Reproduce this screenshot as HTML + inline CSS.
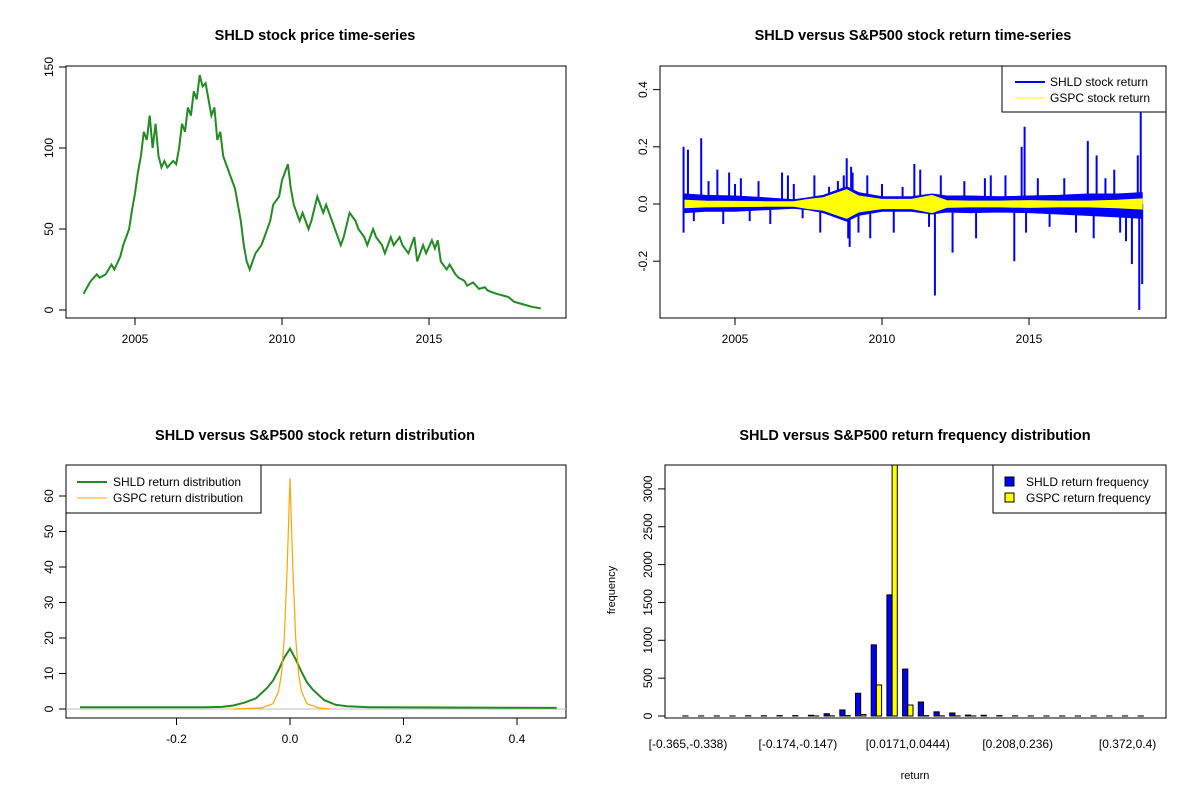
<!DOCTYPE html>
<html><head><meta charset="utf-8"><style>
body{margin:0;background:#fff;}
svg{display:block;font-family:"Liberation Sans",Arial,sans-serif;}
</style></head><body>
<svg id="c" width="1200" height="800" xmlns="http://www.w3.org/2000/svg"></svg>
<script>
// ---- Panel 1 data: SHLD price ----
const priceYears=[2003.25,2003.4,2003.5,2003.7,2003.8,2004.0,2004.2,2004.3,2004.5,2004.6,2004.8,2004.9,2005.0,2005.1,2005.2,2005.3,2005.4,2005.5,2005.6,2005.7,2005.8,2005.9,2006.0,2006.1,2006.3,2006.4,2006.5,2006.6,2006.7,2006.8,2006.9,2007.0,2007.1,2007.2,2007.3,2007.4,2007.5,2007.6,2007.7,2007.8,2007.9,2008.0,2008.1,2008.3,2008.4,2008.5,2008.6,2008.7,2008.8,2008.9,2009.0,2009.1,2009.3,2009.4,2009.6,2009.7,2009.9,2010.0,2010.2,2010.3,2010.4,2010.5,2010.6,2010.7,2010.9,2011.0,2011.2,2011.4,2011.5,2011.7,2011.8,2012.0,2012.1,2012.3,2012.5,2012.6,2012.8,2012.9,2013.1,2013.2,2013.4,2013.5,2013.7,2013.8,2014.0,2014.1,2014.3,2014.5,2014.6,2014.8,2014.9,2015.1,2015.2,2015.3,2015.4,2015.6,2015.7,2015.9,2016.0,2016.2,2016.3,2016.5,2016.7,2016.9,2017.0,2017.3,2017.5,2017.7,2017.9,2018.1,2018.3,2018.5,2018.8];
const priceValues=[10,15,18,22,20,22,28,25,33,40,50,62,72,85,95,110,105,120,100,115,95,88,92,88,92,90,100,115,110,125,120,135,130,145,138,140,130,120,125,105,110,95,90,80,75,65,55,40,30,25,30,35,40,45,55,65,70,80,90,75,65,60,55,60,50,55,70,60,65,55,50,40,45,60,55,50,45,40,50,45,40,35,45,40,45,40,35,45,30,40,35,43,38,43,30,25,28,22,20,18,15,17,13,14,12,10,9,8,5,4,3,2,1];
const priceTicks=[0,50,100,150];
const yearTicks=[2005,2010,2015];
// ---- Panel 2 data: return envelopes and spikes ----
const retYears=[2003.3,2004,2005,2006,2007,2007.5,2008,2008.8,2009.2,2010,2011,2011.7,2012.2,2013,2014,2015,2016,2017,2018,2018.85];
const shldUpper=[.035,.03,.028,.022,.015,.022,.03,.06,.04,.025,.025,.035,.028,.028,.025,.028,.03,.035,.035,.04];
const shldLower=[-.03,-.025,-.025,-.02,-.015,-.02,-.03,-.06,-.04,-.025,-.025,-.035,-.028,-.03,-.028,-.03,-.035,-.04,-.045,-.05];
const gspcAmp=[.013,.01,.009,.008,.008,.016,.022,.05,.028,.016,.016,.03,.012,.01,.01,.012,.01,.01,.013,.018];
const spikeYears=[2003.25,2003.25,2003.4,2003.6,2003.85,2004.1,2004.4,2004.6,2004.8,2005.0,2005.2,2005.5,2005.8,2006.2,2006.6,2006.8,2007.0,2007.3,2007.7,2007.9,2008.2,2008.5,2008.7,2008.8,2008.85,2008.9,2008.95,2009.0,2009.2,2009.5,2009.6,2010.0,2010.4,2010.7,2011.1,2011.3,2011.6,2011.8,2012.0,2012.4,2012.8,2013.2,2013.5,2013.7,2014.2,2014.5,2014.85,2014.75,2014.9,2015.3,2015.7,2016.2,2016.6,2017.0,2017.2,2017.3,2017.6,2017.9,2018.1,2018.3,2018.5,2018.7,2018.8,2018.75,2018.85];
const spikeValues=[0.2,-0.1,0.19,-0.06,0.23,0.08,0.12,-0.07,0.11,0.07,0.09,-0.06,0.08,-0.07,0.11,0.1,0.07,-0.05,0.1,-0.1,0.06,0.08,0.1,0.16,-0.12,-0.15,0.13,0.11,-0.1,0.1,-0.12,0.07,-0.1,0.06,0.14,0.12,-0.08,-0.32,0.1,-0.17,0.08,-0.12,0.09,0.1,0.1,-0.2,0.27,0.2,-0.1,0.09,-0.08,0.09,-0.1,0.22,-0.12,0.17,0.09,0.12,-0.1,-0.13,-0.21,0.17,0.32,-0.37,-0.28];
const retTicks=[-0.2,0.0,0.2,0.4];
// ---- Panel 3 data: densities ----
const shldDensX=[-0.37,-0.15,-0.12,-0.1,-0.08,-0.06,-0.04,-0.03,-0.02,-0.01,0,0.01,0.02,0.03,0.04,0.05,0.06,0.08,0.1,0.14,0.47];
const shldDensY=[0.5,0.5,0.6,1,1.8,3,6,8,11,14.5,17,14,10.5,7.5,5.5,4,2.5,1.2,0.8,0.5,0.3];
const gspcDensX=[-0.1,-0.05,-0.03,-0.02,-0.015,-0.01,-0.005,0,0.005,0.01,0.015,0.02,0.03,0.05,0.07];
const gspcDensY=[0,0.3,1.5,5,10,20,40,65,40,20,10,5,1.5,0.3,0];
const densYTicks=[0,10,20,30,40,50,60];
const densXTicks=[-0.2,0.0,0.2,0.4];
// ---- Panel 4 data: histogram ----
const binLabels=["[-0.365,-0.338)","[-0.174,-0.147)","[0.0171,0.0444)","[0.208,0.236)","[0.372,0.4)"];
const binLabelIdx=[0,7,14,21,28];
const shldFreq=[1,1,1,1,3,3,5,5,10,30,80,300,940,1600,620,185,55,40,12,10,5,2,1,1,1,1,1,1,1,1];
const gspcFreq=[0,0,0,0,0,0,0,0,1,2,5,20,410,3600,145,5,2,1,1,0,0,0,0,0,0,0,0,0,0,0];
const freqTicks=[0,500,1000,1500,2000,2500,3000];

const NS="http://www.w3.org/2000/svg";const svg=document.getElementById('c');
function el(tag,attrs,parent,text){const e=document.createElementNS(NS,tag);for(const k in attrs)e.setAttribute(k,attrs[k]);if(text!==undefined)e.textContent=text;(parent||svg).appendChild(e);return e;}
function txt(x,y,s,size,anchor,extra,parent){const t=el('text',Object.assign({x:x,y:y,'font-size':size,'text-anchor':anchor||'middle',fill:'#000'},extra||{}),parent,s);return t;}

function box(x0,y0,x1,y1,name){const r=el('rect',{x:x0,y:y0,width:x1-x0,height:y1-y0,fill:'none',stroke:'#000','stroke-width':1});}
function yaxis(xl,ticks,fy,fmt,name){const g=el('g',{});
 el('line',{x1:xl,x2:xl,y1:fy(ticks[0]),y2:fy(ticks[ticks.length-1]),stroke:'#000'},g);
 ticks.forEach(t=>{const y=fy(t);el('line',{x1:xl-7,x2:xl,y1:y,y2:y,stroke:'#000'},g);txt(xl-13,y,fmt(t),12,'middle',{transform:`rotate(-90 ${xl-13} ${y})`},g);});}
function xaxis(yb,ticks,fx,fmt,name){const g=el('g',{});
 el('line',{x1:fx(ticks[0]),x2:fx(ticks[ticks.length-1]),y1:yb,y2:yb,stroke:'#000'},g);
 ticks.forEach(t=>{const x=fx(t);el('line',{x1:x,x2:x,y1:yb,y2:yb+7,stroke:'#000'},g);txt(x,yb+25,fmt(t),12,'middle',{},g);});}
function title(x,y,s,name){const t=txt(x,y,s,14.5,'middle',{'font-weight':'bold'});}

// ===== Panel 1 =====
const p1x=y=>135+(y-2005)*29.4, p1y=v=>310-v*1.62;
title(315,40,'SHLD stock price time-series','price-title');
box(66,66,566,318,'price-plot-box');
yaxis(66,priceTicks,p1y,v=>String(v),'price-y-axis');
xaxis(318,yearTicks,p1x,v=>String(v),'price-x-axis');
{let d='';priceYears.forEach((y,i)=>{d+=(i?'L':'M')+p1x(y).toFixed(1)+','+p1y(priceValues[i]).toFixed(1);});
const p=el('path',{d:d,fill:'none',stroke:'#228B22','stroke-width':2});}

// ===== Panel 2 =====
const p2x=y=>735+(y-2005)*29.4, p2y=v=>204-v*286;
title(913,40,'SHLD versus S&P500 stock return time-series','returns-title');
box(660,66,1166,318,'returns-plot-box');
yaxis(660,retTicks,p2y,v=>v.toFixed(1),'returns-y-axis');
xaxis(318,yearTicks,p2x,v=>String(v),'returns-x-axis');
{let up='',lo='';retYears.forEach((y,i)=>{up+=(i?'L':'M')+p2x(y).toFixed(1)+','+p2y(shldUpper[i]).toFixed(1);});
for(let i=retYears.length-1;i>=0;i--)lo+='L'+p2x(retYears[i]).toFixed(1)+','+p2y(shldLower[i]).toFixed(1);
const b=el('path',{d:up+lo+'Z',fill:'#0000FF',stroke:'#0000FF','stroke-width':1});
const sg=el('g',{stroke:'#0000FF','stroke-width':2});
spikeYears.forEach((y,i)=>{el('line',{x1:p2x(y),x2:p2x(y),y1:p2y(0),y2:p2y(spikeValues[i])},sg);});
let gu='',gl='';retYears.forEach((y,i)=>{gu+=(i?'L':'M')+p2x(y).toFixed(1)+','+p2y(gspcAmp[i]).toFixed(1);});
for(let i=retYears.length-1;i>=0;i--)gl+='L'+p2x(retYears[i]).toFixed(1)+','+p2y(-gspcAmp[i]).toFixed(1);
const g=el('path',{d:gu+gl+'Z',fill:'#FFFF00',stroke:'#FFFF00','stroke-width':1});}
{const lg=el('g',{});
el('rect',{x:1002,y:66,width:164,height:46,fill:'#fff',stroke:'#000'},lg);
el('line',{x1:1015,x2:1045,y1:82,y2:82,stroke:'#0000FF','stroke-width':2},lg);
el('line',{x1:1015,x2:1045,y1:98,y2:98,stroke:'#FFFF00','stroke-width':1},lg);
txt(1050,86,'SHLD stock return',12,'start',{},lg);txt(1050,102,'GSPC stock return',12,'start',{},lg);}

// ===== Panel 3 =====
const p3x=v=>290+v*567.5, p3y=v=>709-v*3.55;
title(315,440,'SHLD versus S&P500 stock return distribution','density-title');
box(66,465,566,718,'density-plot-box');
yaxis(66,densYTicks,p3y,v=>String(v),'density-y-axis');
xaxis(718,densXTicks,p3x,v=>v.toFixed(1),'density-x-axis');
{const b=el('line',{x1:66,x2:566,y1:p3y(0),y2:p3y(0),stroke:'#BEBEBE'});
let d='';shldDensX.forEach((x,i)=>{d+=(i?'L':'M')+p3x(x).toFixed(1)+','+p3y(shldDensY[i]).toFixed(1);});
const a=el('path',{d:d,fill:'none',stroke:'#228B22','stroke-width':2});
let e='';gspcDensX.forEach((x,i)=>{e+=(i?'L':'M')+p3x(x).toFixed(1)+','+p3y(gspcDensY[i]).toFixed(1);});
const c=el('path',{d:e,fill:'none',stroke:'#FFA500','stroke-width':1.2});}
{const lg=el('g',{});
el('rect',{x:66,y:465,width:195,height:48,fill:'#fff',stroke:'#000'},lg);
el('line',{x1:77,x2:107,y1:482,y2:482,stroke:'#228B22','stroke-width':2},lg);
el('line',{x1:77,x2:107,y1:498,y2:498,stroke:'#FFA500','stroke-width':1},lg);
txt(113,486,'SHLD return distribution',12,'start',{},lg);txt(113,502,'GSPC return distribution',12,'start',{},lg);}

// ===== Panel 4 =====
const p4c=i=>688+i*15.7, p4y=v=>716-v*0.0757, bw=5.2;
title(915,440,'SHLD versus S&P500 return frequency distribution','histogram-title');
yaxis(665,freqTicks,p4y,v=>String(v),'frequency-y-axis');
{const t=txt(615,590,'frequency',11,'middle',{transform:'rotate(-90 615 590)'});
const t2=txt(915,779,'return',11,'middle');}
{const cp=el('clipPath',{id:'hc'});el('rect',{x:665,y:465,width:501,height:253},cp);
const bg=el('g',{'clip-path':'url(#hc)'});
shldFreq.forEach((v,i)=>{const r=el('rect',{x:p4c(i)-bw,y:p4y(v),width:bw,height:Math.max(0,p4y(0)-p4y(v)),fill:'#0000FF',stroke:'#000','stroke-width':1},bg);

const v2=gspcFreq[i];const r2=el('rect',{x:p4c(i),y:p4y(v2),width:bw,height:Math.max(0,p4y(0)-p4y(v2)),fill:'#FFFF00',stroke:'#000','stroke-width':1},bg);
});
binLabelIdx.forEach((b,k)=>{const t=txt(p4c(b),748,binLabels[k],12,'middle');});}
box(665,465,1166,718,'histogram-plot-box');
{const lg=el('g',{});
el('rect',{x:993,y:465,width:173,height:48,fill:'#fff',stroke:'#000'},lg);
el('rect',{x:1005,y:477,width:9,height:9,fill:'#0000FF',stroke:'#000'},lg);
el('rect',{x:1005,y:493,width:9,height:9,fill:'#FFFF00',stroke:'#000'},lg);
txt(1026,486,'SHLD return frequency',12,'start',{},lg);txt(1026,502,'GSPC return frequency',12,'start',{},lg);}
</script>
</body></html>
